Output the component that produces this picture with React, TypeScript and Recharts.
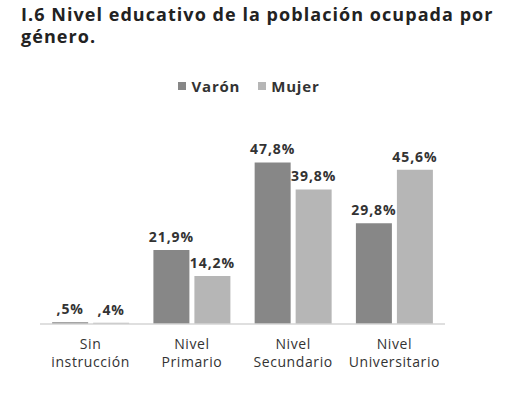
import { BarChart, Bar, XAxis, YAxis, LabelList } from "recharts";

const categories = [
  "Sin instrucción",
  "Nivel Primario",
  "Nivel Secundario",
  "Nivel Universitario",
];
const varon = [0.5, 21.9, 47.8, 29.8];
const mujer = [0.4, 14.2, 39.8, 45.6];
const titleLines = [
  "I.6 Nivel educativo de la población ocupada por",
  "género.",
];

const COLORS = { varon: "#878787", mujer: "#b6b6b6" };
const FONT = "'Open Sans', sans-serif";

const data = categories.map((name, i) => ({
  name,
  varon: varon[i],
  mujer: mujer[i],
}));

// 0.5 -> ",5%" como en el original
const fmt = (v: any) => {
  const s = Number(v).toFixed(1).replace(".", ",");
  return (s.startsWith("0") ? s.slice(1) : s) + "%";
};

const CategoryTick = (props: any) => {
  const { x, y, payload } = props;
  const txt: string = payload.value;
  const idx = txt.indexOf(" ");
  const lines = [txt.slice(0, idx), txt.slice(idx + 1)];
  return (
    <text
      x={x}
      y={y}
      textAnchor="middle"
      fill="#333"
      fontSize={14}
      fontFamily={FONT}
      letterSpacing={0.6}
    >
      {lines.map((l, i) => (
        <tspan key={i} x={x} dy={i === 0 ? 17 : 18}>
          {l}
        </tspan>
      ))}
    </text>
  );
};

const labelProps = {
  position: "top" as const,
  offset: 8,
  formatter: fmt,
  fill: "#333",
  fontSize: 14,
  fontWeight: 700,
  fontFamily: FONT,
  letterSpacing: 0.9,
};

export default function App() {
  return (
    <div
      style={{
        position: "absolute",
        left: 0,
        top: 0,
        width: 528,
        height: 398,
        background: "#fff",
        fontFamily: FONT,
      }}
    >
      {titleLines.map((t, i) => (
        <div
          key={i}
          style={{
            position: "absolute",
            left: 21,
            top: 4 + i * 22,
            height: 20,
            fontSize: 18,
            fontWeight: 700,
            color: "#222",
            lineHeight: "20px",
            letterSpacing: 1.05,
            whiteSpace: "nowrap",
          }}
        >
          {t}
        </div>
      ))}
      <div
        style={{
          position: "absolute",
          top: 76,
          left: 0,
          width: 498,
          display: "flex",
          justifyContent: "center",
          gap: 18,
          fontSize: 15,
          fontWeight: 700,
          color: "#333",
          letterSpacing: 0.8,
        }}
      >
        {[
          { label: "Varón", color: COLORS.varon },
          { label: "Mujer", color: COLORS.mujer },
        ].map((it) => (
          <span
            key={it.label}
            style={{ display: "flex", alignItems: "center", gap: 5 }}
          >
            <span
              style={{
                width: 8,
                height: 8,
                background: it.color,
                display: "inline-block",
              }}
            />
            {it.label}
          </span>
        ))}
      </div>
      <BarChart
        width={528}
        height={398}
        data={data}
        margin={{ top: 155, right: 83, bottom: 0, left: 40 }}
        barCategoryGap="12%"
        barGap={5}
        style={{ position: "absolute", left: 0, top: 0 }}
      >
        <XAxis
          dataKey="name"
          axisLine={{ stroke: "#d4d4d4", strokeWidth: 1.5 }}
          tickLine={false}
          tick={<CategoryTick />}
          interval={0}
          height={74}
        />
        <YAxis hide domain={[0, 50]} />
        <Bar dataKey="varon" fill={COLORS.varon} isAnimationActive={false}>
          <LabelList dataKey="varon" {...labelProps} />
        </Bar>
        <Bar dataKey="mujer" fill={COLORS.mujer} isAnimationActive={false}>
          <LabelList dataKey="mujer" {...labelProps} />
        </Bar>
      </BarChart>
    </div>
  );
}
